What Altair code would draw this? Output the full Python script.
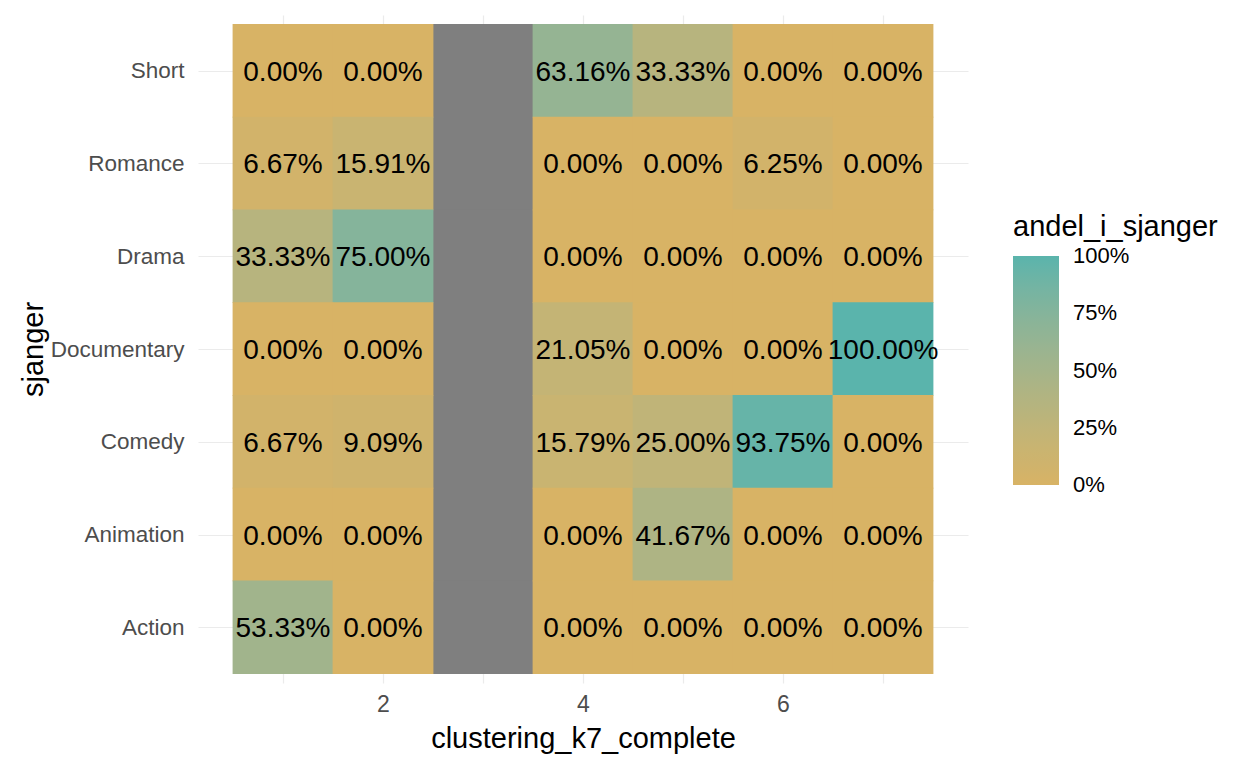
import json
import altair as alt
import pandas as pd

FONT = "Liberation Sans"

genres = ["Short", "Romance", "Drama", "Documentary", "Comedy", "Animation", "Action"]
clusters = [1, 2, 3, 4, 5, 6, 7]

# percentage share per cluster (None = NA, cluster 3 has no data)
short = [0.00, 0.00, None, 63.16, 33.33, 0.00, 0.00]
romance = [6.67, 15.91, None, 0.00, 0.00, 6.25, 0.00]
drama = [33.33, 75.00, None, 0.00, 0.00, 0.00, 0.00]
documentary = [0.00, 0.00, None, 21.05, 0.00, 0.00, 100.00]
comedy = [6.67, 9.09, None, 15.79, 25.00, 93.75, 0.00]
animation = [0.00, 0.00, None, 0.00, 41.67, 0.00, 0.00]
action = [53.33, 0.00, None, 0.00, 0.00, 0.00, 0.00]

series = [short, romance, drama, documentary, comedy, animation, action]

legend_values = [0.0001, 0.25, 0.5, 0.75, 0.9999]

# genre position on the discrete y scale (Action = 1 at the bottom)
n = len(genres)
rows = []
for i, (g, vals) in enumerate(zip(genres, series)):
    for c, v in zip(clusters, vals):
        rows.append({
            "sjanger": g,
            "pos": n - i,
            "clustering_k7_complete": c,
            "andel_i_sjanger": (v / 100.0) if v is not None else None,
        })
df = pd.DataFrame(rows)

base = alt.Chart(df).transform_calculate(
    x1="datum.clustering_k7_complete - 0.5",
    x2="datum.clustering_k7_complete + 0.5",
    y1="datum.pos - 0.5",
    y2="datum.pos + 0.5",
)

x_scale = alt.Scale(domain=[0.15, 7.85], nice=False, zero=False)
y_scale = alt.Scale(domain=[0.4, n + 0.6], nice=False, zero=False)
color_scale = alt.Scale(domain=[0, 1], range=["#D8B365", "#5AB4AC"], interpolate="lab")

bottom_up = json.dumps(list(reversed(genres)))

x_axis = alt.Axis(
    values=clusters,
    labelExpr="datum.value % 2 == 0 ? datum.label : ''",
    format="d",
    grid=True, gridColor="#EBEBEB", gridWidth=1.2, zindex=0,
    ticks=False, domain=False,
    labelFont=FONT, labelFontSize=23, labelColor="#4D4D4D", labelPadding=10,
    title="clustering_k7_complete", titleFont=FONT, titleFontSize=29,
    titleFontWeight="normal", titleColor="black",
    titleY=55, titleBaseline="middle",
)
y_axis = alt.Axis(
    values=list(range(1, n + 1)),
    labelExpr=f"{bottom_up}[datum.value - 1]",
    grid=True, gridColor="#EBEBEB", gridWidth=1.2, zindex=0,
    ticks=False, domain=False,
    labelFont=FONT, labelFontSize=22.5, labelColor="#4D4D4D", labelPadding=14,
    title="sjanger", titleFont=FONT, titleFontSize=29,
    titleFontWeight="normal", titleColor="black",
    titleAngle=270, titleX=-165, titleY=334, titleBaseline="middle",
)

offsets = dict(xOffset=-0.4, x2Offset=0.4, yOffset=0.4, y2Offset=-0.4)

na_layer = base.transform_filter("datum.andel_i_sjanger === null").mark_rect(
    color="#7F7F7F", **offsets
).encode(
    x=alt.X("x1:Q", scale=x_scale, axis=x_axis),
    x2="x2:Q",
    y=alt.Y("y1:Q", scale=y_scale, axis=y_axis),
    y2="y2:Q",
)

tiles = base.transform_filter("datum.andel_i_sjanger !== null").mark_rect(
    **offsets
).encode(
    x=alt.X("x1:Q", scale=x_scale, axis=x_axis),
    x2="x2:Q",
    y=alt.Y("y1:Q", scale=y_scale, axis=y_axis),
    y2="y2:Q",
    color=alt.Color(
        "andel_i_sjanger:Q",
        scale=color_scale,
        legend=alt.Legend(
            type="gradient",
            orient="none", legendX=815, legendY=198, direction="vertical",
            gradientLength=229, gradientThickness=46, gradientStrokeWidth=0,
            values=legend_values, format=".0%",
            labelFont=FONT, labelFontSize=22, labelColor="black", labelOffset=14,
            labelOverlap=False, labelBaseline="middle",
            title="andel_i_sjanger", titleFont=FONT, titleFontSize=29,
            titleFontWeight="normal", titleColor="black", titlePadding=14,
            titleLimit=400,
        ),
    ),
)

labels = base.transform_filter("datum.andel_i_sjanger !== null").mark_text(
    font=FONT, fontSize=28, color="black", baseline="middle", align="center", dy=2
).encode(
    x=alt.X("clustering_k7_complete:Q", scale=x_scale, axis=x_axis),
    y=alt.Y("pos:Q", scale=y_scale, axis=y_axis),
    text=alt.Text("andel_i_sjanger:Q", format=".2%"),
)

chart = alt.layer(na_layer, tiles, labels).properties(
    width=770,
    height=668,
    background="white",
    autosize=alt.AutoSizeParams(type="none"),
    padding={"left": 190, "top": 7, "right": 272, "bottom": 77},
).configure_view(stroke=None)

chart.save("out.html", embed_options={"renderer": "svg", "actions": False})
